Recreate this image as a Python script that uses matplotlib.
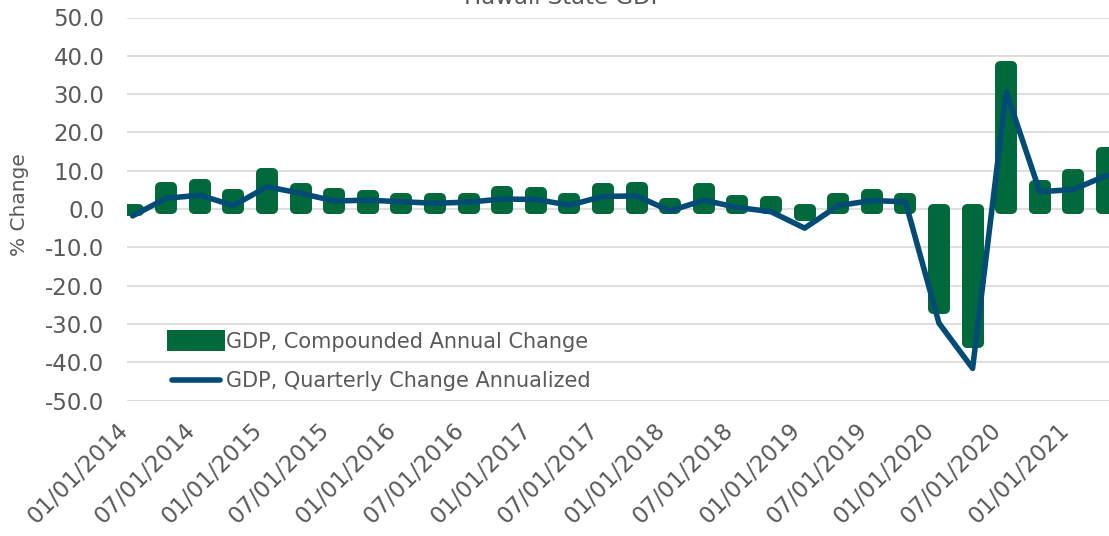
import matplotlib
matplotlib.use("Agg")
import matplotlib.pyplot as plt
import numpy as np

plt.rcParams['font.family'] = ['DejaVu Sans']
plt.rcParams['axes.unicode_minus'] = False

# quarters 2014Q1 .. 2021Q2
quarters = ['01/01/2014', '04/01/2014', '07/01/2014', '10/01/2014',
            '01/01/2015', '04/01/2015', '07/01/2015', '10/01/2015',
            '01/01/2016', '04/01/2016', '07/01/2016', '10/01/2016',
            '01/01/2017', '04/01/2017', '07/01/2017', '10/01/2017',
            '01/01/2018', '04/01/2018', '07/01/2018', '10/01/2018',
            '01/01/2019', '04/01/2019', '07/01/2019', '10/01/2019',
            '01/01/2020', '04/01/2020', '07/01/2020', '10/01/2020',
            '01/01/2021', '04/01/2021']

# GDP, compounded annual change (bars)
annual = [-0.6, 5.8, 6.4, 3.9, 9.5, 5.4, 4.1, 3.7, 2.9, 3.0,
          2.8, 4.7, 4.4, 2.8, 5.4, 5.7, 1.5, 5.6, 2.4, 2.2,
          -1.75, 2.8, 4.0, 2.8, -26.1, -35.1, 37.4, 6.3, 9.1, 15.0]

# GDP, quarterly change annualized (line)
quarterly = [-1.8, 2.8, 3.6, 0.9, 5.8, 4.1, 2.1, 2.3, 1.9, 1.5,
             1.8, 2.6, 2.5, 1.0, 3.3, 3.4, -0.5, 2.3, 0.4, -0.7,
             -5.0, 0.9, 2.2, 1.9, -29.8, -41.6, 30.6, 4.5, 5.1, 8.8]

yticks = np.arange(-50, 51, 10)

green = '#00693C'
blue = '#024B74'
grey = '#595959'

fig = plt.figure(figsize=(11.09, 5.36), dpi=100)
ax = fig.add_axes([126.7 / 1109, 1 - 400.5 / 536, 1 - 126.7 / 1109, (400.5 - 17.5) / 536])

x = np.arange(len(quarters))
bars = ax.bar(x, annual, width=0.36, color=green, edgecolor=green, linewidth=7.2,
              joinstyle='round', zorder=2, label='GDP, Compounded Annual Change')
line, = ax.plot(x, quarterly, color=blue, linewidth=4.0, solid_joinstyle='round',
                solid_capstyle='round', zorder=3, label='GDP, Quarterly Change Annualized')

ax.set_xlim(-0.176, 29.06)
ax.set_ylim(-50, 50)
ax.set_yticks(yticks)
ax.set_yticklabels(['%.1f' % v for v in yticks])
ax.yaxis.grid(True, color='#D9D9D9', linewidth=1.2, zorder=0)
ax.set_axisbelow(True)
for s in ax.spines.values():
    s.set_visible(False)

ax.set_xticks(x[::2])
ax.set_xticklabels(quarters[::2], rotation=45, ha='right')
ax.tick_params(axis='both', length=0, labelsize=16.5, labelcolor=grey)
ax.tick_params(axis='y', pad=16)
ax.tick_params(axis='x', pad=13)

fig.text(20 / 1109, 1 - 205 / 536, '% Change', rotation=90, ha='center', va='center',
         fontsize=14.5, color=grey)
fig.text(564 / 1109, 1 - 3.5 / 536, 'Hawaii State GDP', ha='center', va='baseline',
         fontsize=16.5, color=grey)

leg = ax.legend([bars, line], [bars.get_label(), line.get_label()],
                loc='upper left', bbox_to_anchor=(172 / 1109, 1 - 332 / 536),
                bbox_transform=fig.transFigure, frameon=False, fontsize=15,
                handlelength=2.3, handleheight=0.47, handletextpad=0.3,
                labelspacing=0.9, borderpad=0, borderaxespad=0)
for t in leg.get_texts():
    t.set_color(grey)

fig.savefig('out.png', dpi=100)
